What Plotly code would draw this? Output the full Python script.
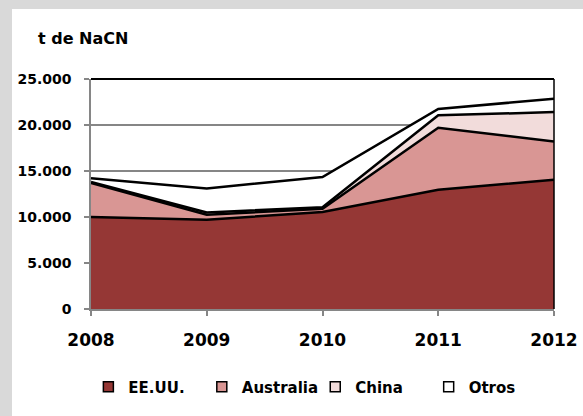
import plotly.graph_objects as go

years = [2008, 2009, 2010, 2011, 2012]

# t de NaCN por país (apilados)
eeuu = [10000, 9700, 10550, 12950, 14050]
australia = [3700, 550, 350, 6750, 4150]
china = [100, 250, 150, 1350, 3200]
otros = [400, 2600, 3300, 700, 1450]

series = [
    ("EE.UU.", eeuu, "#953735"),
    ("Australia", australia, "#D99694"),
    ("China", china, "#F2DCDB"),
    ("Otros", otros, "#FFFFFF"),
]

font_family = "DejaVu Sans"

fig = go.Figure()

for name, vals, color in series:
    fig.add_trace(go.Scatter(
        x=years, y=vals, name=name, mode="lines",
        stackgroup="one", fillcolor=color,
        line=dict(color="black", width=2.5),
        showlegend=False, hoverinfo="skip",
    ))
    # legend entry with square symbol
    fig.add_trace(go.Scatter(
        x=[None], y=[None], name=name, mode="markers",
        marker=dict(symbol="square", size=10, color=color,
                    line=dict(color="black", width=1.5)),
    ))

# grey frame strips (left and top) around the white chart panel
fig.add_shape(type="rect", xref="paper", yref="paper",
              x0=-0.3, x1=-0.1706, y0=-2, y1=2,
              fillcolor="#D9D9D9", line_width=0, layer="below")
fig.add_shape(type="rect", xref="paper", yref="paper",
              x0=-0.3, x1=2, y0=1.3047, y1=2,
              fillcolor="#D9D9D9", line_width=0, layer="below")

# plot area top and right borders
fig.add_shape(type="line", xref="x domain", yref="y domain",
              x0=0, x1=1, y0=1, y1=1, line=dict(color="black", width=2))
fig.add_shape(type="line", xref="x domain", yref="y domain",
              x0=1, x1=1, y0=0, y1=1, line=dict(color="black", width=1.5))

fig.add_annotation(text="<b>t de NaCN</b>", xref="paper", yref="paper",
                   x=-0.1188, y=1.176, xanchor="left", yanchor="middle",
                   showarrow=False, font=dict(size=16, color="black", family=font_family))

fig.update_layout(
    width=583, height=416,
    margin=dict(l=91, r=29, t=79, b=104),
    paper_bgcolor="white",
    plot_bgcolor="white",
    separators=",.",
    font=dict(family=font_family, color="black"),
    legend=dict(orientation="h", x=0.49, xanchor="center", y=-0.339, yanchor="middle",
                font=dict(size=15, weight="bold"), itemwidth=30, traceorder="normal",
                entrywidthmode="fraction", entrywidth=0.245,
                bgcolor="rgba(0,0,0,0)"),
    xaxis=dict(range=[2008, 2012], tickvals=years, showgrid=False, automargin=False,
               showline=True, linecolor="#868686", linewidth=1.5,
               ticks="outside", ticklen=5, tickcolor="#868686", tickwidth=1.5,
               tickfont=dict(size=17, weight="bold"), ticklabelstandoff=10,
               zeroline=False),
    yaxis=dict(range=[0, 25000], dtick=5000, tickformat=",d", automargin=False,
               showgrid=True, gridcolor="#868686", gridwidth=1.5,
               showline=True, linecolor="#868686", linewidth=1.5,
               ticks="outside", ticklen=5, tickcolor="#868686", tickwidth=1.5,
               tickfont=dict(size=14, weight="bold"), ticklabelstandoff=10,
               zeroline=False),
)

# no page margin and no scrollbars around the fixed-size figure
page_js = ("document.body.style.margin='0';"
           "document.body.style.overflow='hidden';"
           "document.documentElement.style.overflow='hidden';")
fig.write_html("out.html", config={"displayModeBar": False}, post_script=page_js)
